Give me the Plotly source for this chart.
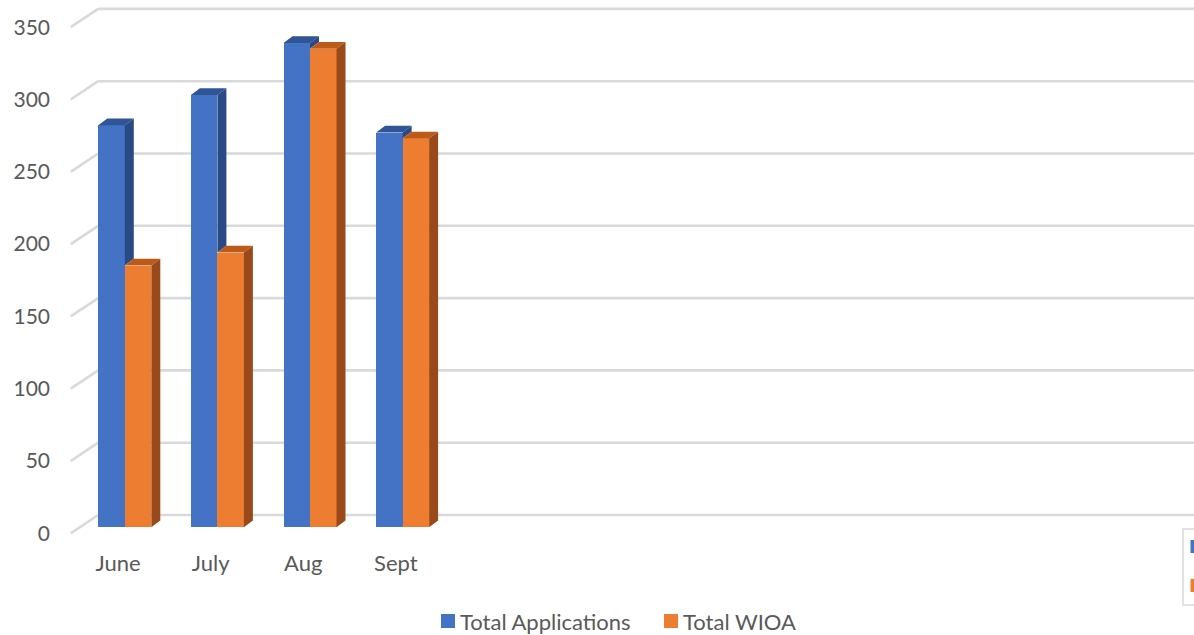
import plotly.graph_objects as go

# ---------------- data ----------------
categories = ["June", "July", "Aug", "Sept"]
total_applications = [278, 299, 335, 273]
total_wioa = [181, 190, 331, 269]
y_tick_values = [0, 50, 100, 150, 200, 250, 300, 350]
series_names = ["Total Applications", "Total WIOA"]

# ---------------- geometry / style ----------------
W, H = 1194, 635
PLOT_L, PLOT_R, PLOT_T, PLOT_B = 66, 1194, 6, 545   # plot area in px
ML, MR, MT, MB = PLOT_L, W - PLOT_R, PLOT_T, H - PLOT_B
plot_w = PLOT_R - PLOT_L
plot_h = PLOT_B - PLOT_T

PX_X = 92.6          # pixels per category
PX_Y = 1.446         # pixels per value unit
CAT0_PX = 118.0      # x of first category (front plane)
ZERO_PX = 533.3      # y of value 0 (front plane)

X0 = (PLOT_L - CAT0_PX) / PX_X
X1 = X0 + plot_w / PX_X
Y1 = (ZERO_PX - PLOT_T) / PX_Y
Y0 = (ZERO_PX - PLOT_B) / PX_Y

WALL_X = (70.7 - CAT0_PX) / PX_X      # front-left corner of the grid
DEPTH_DX = 27.5 / PX_X                # wall depth (x)
DEPTH_DY = 18.3 / PX_Y                # wall depth (y)

BAR_W = 26.5 / PX_X
BAR_SHIFT = 6.8 / PX_X                # bars sit a little back in depth
BAR_BASE = 6.0 / PX_Y
FACE_DX = 9.0 / PX_X                  # bar depth
FACE_DY = 6.7 / PX_Y

BLUE, BLUE_TOP, BLUE_SIDE = "#4472C4", "#2F5597", "#2A4A85"
ORANGE, ORANGE_TOP, ORANGE_SIDE = "#ED7D31", "#BC5A18", "#9A4A1A"
GRID = "#D9D9D9"
TXT = "#595959"
FONT = "Lato"


def paper_x(px):
    return (px - PLOT_L) / plot_w


def paper_y(py):
    return (PLOT_B - py) / plot_h


fig = go.Figure()

series = [
    (series_names[0], total_applications, BLUE, BLUE_TOP, BLUE_SIDE, -1),
    (series_names[1], total_wioa, ORANGE, ORANGE_TOP, ORANGE_SIDE, +1),
]

# front faces
for name, vals, col, _, _, sgn in series:
    xs = [i + BAR_SHIFT + sgn * BAR_W / 2 for i in range(len(categories))]
    fig.add_trace(go.Bar(
        x=xs, y=vals, base=[BAR_BASE] * len(vals), width=BAR_W,
        marker=dict(color=col, line=dict(width=0)), name=name,
        hoverinfo="skip", showlegend=False,
    ))

# top and side faces
for k, (name, vals, col, topc, sidec, sgn) in enumerate(series):
    for i, v in enumerate(vals):
        xc = i + BAR_SHIFT + sgn * BAR_W / 2
        xl, xr = xc - BAR_W / 2, xc + BAR_W / 2
        yt = BAR_BASE + v
        fig.add_trace(go.Scatter(
            x=[xl, xr, xr + FACE_DX, xl + FACE_DX, xl],
            y=[yt, yt, yt + FACE_DY, yt + FACE_DY, yt],
            mode="none", fill="toself", fillcolor=topc,
            showlegend=False, hoverinfo="skip"))
        if k == 0:
            low = min(max(total_wioa[i], 0), v)
        else:
            low = 0
        yl = BAR_BASE + low
        if v > low:
            fig.add_trace(go.Scatter(
                x=[xr, xr, xr + FACE_DX, xr + FACE_DX, xr],
                y=[yl, yt, yt + FACE_DY, yl + FACE_DY, yl],
                mode="none", fill="toself", fillcolor=sidec,
                showlegend=False, hoverinfo="skip"))

# 3-D style gridlines
shapes = []
for v in y_tick_values:
    shapes.append(dict(type="line", xref="x", yref="y", layer="below",
                       x0=WALL_X, y0=v, x1=WALL_X + DEPTH_DX, y1=v + DEPTH_DY,
                       line=dict(color=GRID, width=2.6)))
    shapes.append(dict(type="line", xref="x", yref="y", layer="below",
                       x0=WALL_X + DEPTH_DX, y0=v + DEPTH_DY, x1=X1 + 1, y1=v + DEPTH_DY,
                       line=dict(color=GRID, width=2.6)))

# legend (bottom): squares + labels
annotations = []
legend_items = [(series_names[0], BLUE, 441), (series_names[1], ORANGE, 664)]
for name, col, sx in legend_items:
    shapes.append(dict(type="rect", xref="paper", yref="paper", layer="above",
                       x0=paper_x(sx), x1=paper_x(sx + 14),
                       y0=paper_y(628), y1=paper_y(614),
                       line=dict(width=0), fillcolor=col))
    annotations.append(dict(xref="paper", yref="paper", x=paper_x(sx + 17),
                            y=paper_y(621), xanchor="left", yanchor="middle",
                            text=name, showarrow=False,
                            font=dict(family=FONT, size=22, color=TXT)))

# partially visible second legend box at the right edge
shapes.append(dict(type="rect", xref="paper", yref="paper", layer="above",
                   x0=paper_x(1183), x1=paper_x(1230), y0=paper_y(605), y1=paper_y(529),
                   line=dict(color="#D9D9D9", width=1.5), fillcolor="white"))
shapes.append(dict(type="rect", xref="paper", yref="paper", layer="above",
                   x0=paper_x(1190.5), x1=paper_x(1205), y0=paper_y(553), y1=paper_y(540),
                   line=dict(width=0), fillcolor=BLUE))
shapes.append(dict(type="rect", xref="paper", yref="paper", layer="above",
                   x0=paper_x(1190.5), x1=paper_x(1205), y0=paper_y(592), y1=paper_y(579),
                   line=dict(width=0), fillcolor=ORANGE))

fig.update_layout(
    width=W, height=H,
    margin=dict(l=ML, r=MR, t=MT, b=MB, autoexpand=False),
    paper_bgcolor="white", plot_bgcolor="white",
    barmode="overlay", bargap=0,
    font=dict(family=FONT, size=21, color=TXT),
    shapes=shapes, annotations=annotations,
    showlegend=False,
    xaxis=dict(range=[X0, X1], tickvals=list(range(len(categories))),
               ticktext=categories, showgrid=False, zeroline=False,
               showline=False, ticks="", ticklabelstandoff=3,
               tickfont=dict(family=FONT, size=22, color=TXT),
               fixedrange=True),
    yaxis=dict(range=[Y0, Y1], tickvals=y_tick_values,
               showgrid=False, zeroline=False, showline=False, ticks="",
               ticklabelstandoff=15,
               tickfont=dict(family=FONT, size=21, color=TXT), fixedrange=True),
)

# remove the browser's default 8px page margin so the figure fills the window
fig.write_html("out.html", include_plotlyjs=True,
               config={"displayModeBar": False},
               post_script="document.body.style.margin='0';document.body.style.overflow='hidden';")
